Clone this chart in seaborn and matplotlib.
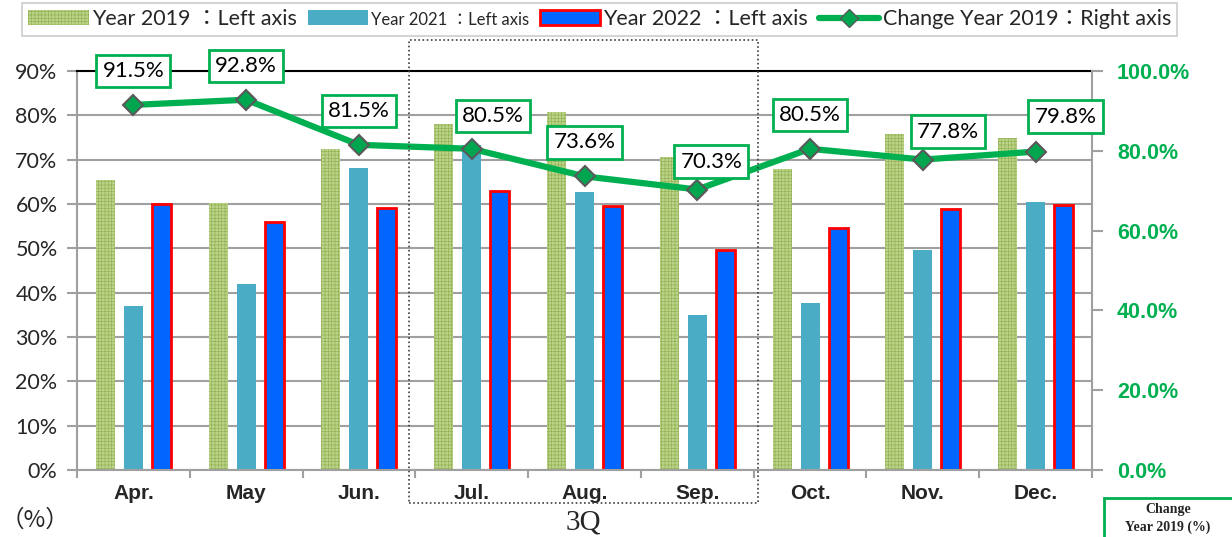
import numpy as np
import pandas as pd
import matplotlib
matplotlib.use("Agg")
import matplotlib.pyplot as plt
from matplotlib.patches import Patch, Rectangle
from matplotlib.lines import Line2D
import seaborn as sns

# ---- data ----
months = ["Apr.", "May", "Jun.", "Jul.", "Aug.", "Sep.", "Oct.", "Nov.", "Dec."]
y2019 = [65.4, 60.2, 72.4, 78.0, 80.8, 70.6, 67.9, 75.8, 74.9]
y2021 = [37.0, 42.0, 68.1, 73.3, 62.7, 35.0, 37.7, 49.6, 60.5]
y2022 = [60.0, 56.0, 59.1, 62.9, 59.6, 49.6, 54.6, 58.9, 59.8]
change = [91.5, 92.8, 81.5, 80.5, 73.6, 70.3, 80.5, 77.8, 79.8]
series_names = ["Year 2019 ：Left axis", "Year 2021 ：Left axis",
                "Year 2022 ：Left axis"]
line_name = "Change Year 2019：Right axis"
left_ticks = list(range(0, 91, 10))
right_ticks = list(range(0, 101, 20))

# label offsets (pixels) – styling only
lab_dx = [0, 0, 0, 21, 0, 14, 0, 25, 30]
lab_dy = [34, 34, 34, 33, 34, 28, 34, 28, 35]

sns.set_style("white")
plt.rcParams["font.family"] = ["Lato", "Noto Sans CJK JP", "DejaVu Sans"]
plt.rcParams["hatch.linewidth"] = 0.5

GREEN_F = "#bcd38a"
GREEN_H = "#94b356"
TEAL = "#4bacc6"
BLUE = "#0066ff"
RED = "#ff0000"
LINEG = "#00b050"
GRID = "#a0a0a0"

df = pd.DataFrame({
    "month": months * 3,
    "series": [series_names[0]] * 9 + [series_names[1]] * 9 + [series_names[2]] * 9,
    "value": y2019 + y2021 + y2022,
})

fig = plt.figure(figsize=(12.32, 5.37), dpi=100)
ax = fig.add_axes([77 / 1232, 1 - 470 / 537, (1092 - 77) / 1232, (470 - 71) / 537])

sns.barplot(data=df, x="month", y="value", hue="series", order=months,
            hue_order=series_names, palette=[GREEN_F, TEAL, BLUE],
            width=0.744, gap=0.32, ax=ax, legend=False, saturation=1)

for p in ax.containers[0]:
    p.set_facecolor(GREEN_F)
    p.set_edgecolor(GREEN_H)
    p.set_hatch("+++++")
    p.set_linewidth(0)
for p in ax.containers[1]:
    p.set_facecolor(TEAL)
    p.set_linewidth(0)
for p in ax.containers[2]:
    p.set_facecolor(BLUE)
    p.set_edgecolor(RED)
    p.set_linewidth(2)

ax.set_xlim(-0.5, 8.5)
ax.set_ylim(0, 90)
ax.set_yticks(left_ticks)
ax.set_yticklabels([f"{t}%" for t in left_ticks], fontsize=15.5)
ax.set_axisbelow(True)
ax.yaxis.grid(True, color=GRID, lw=1.5)
ax.xaxis.grid(False)
ax.set_xlabel("")
ax.set_ylabel("")
ax.tick_params(axis="y", length=7, color=GRID, width=1.5, pad=7, left=True)
ax.set_xticks(range(9))
ax.set_xticklabels(months, fontsize=15, fontweight="bold", family="Liberation Sans")
ax.tick_params(axis="x", which="major", length=0, pad=10)
ax.set_xticks(np.arange(-0.5, 9, 1), minor=True)
ax.tick_params(axis="x", which="minor", length=6, color=GRID, width=1.5, bottom=True)
for s in ["left", "bottom"]:
    ax.spines[s].set_color(GRID)
    ax.spines[s].set_linewidth(1.5)
ax.spines["top"].set_color("black")
ax.spines["top"].set_linewidth(1.5)
ax.spines["right"].set_visible(False)

ax2 = ax.twinx()
sns.lineplot(x=np.arange(9), y=change, ax=ax2, color=LINEG, lw=4.5,
             marker="D", markersize=10, markerfacecolor="#00a550",
             markeredgecolor="#595959", markeredgewidth=1.5)
ax2.set_xlim(-0.5, 8.5)
ax2.set_ylim(0, 100)
ax2.set_yticks(right_ticks)
ax2.set_yticklabels([f"{t:.1f}%" for t in right_ticks], fontsize=15.5,
                    fontweight="bold", color=LINEG, family="Liberation Sans")
ax2.tick_params(axis="y", length=8, color=GRID, width=1.5, pad=10, right=True)
ax2.set_ylabel("")
for s in ["left", "bottom", "top"]:
    ax2.spines[s].set_visible(False)
ax2.spines["right"].set_color(GRID)
ax2.spines["right"].set_linewidth(1.5)
ax2.grid(False)

for i, v in enumerate(change):
    ax2.annotate(f"{v}%", xy=(i, v), xytext=(lab_dx[i], lab_dy[i]),
                 textcoords="offset pixels", ha="center", va="center",
                 fontsize=16, color="black",
                 bbox=dict(boxstyle="square,pad=0.28", fc="white",
                           ec=LINEG, lw=2), zorder=10)

# legend
handles = [
    Patch(facecolor=GREEN_F, edgecolor=GREEN_H, hatch="+++++", lw=0),
    Patch(facecolor=TEAL, lw=0),
    Patch(facecolor=BLUE, edgecolor=RED, lw=2),
    Line2D([], [], color=LINEG, lw=4.5, marker="D", markersize=9,
           markerfacecolor="#00a550", markeredgecolor="#595959"),
]
leg = fig.legend(handles, series_names + [line_name], loc="upper left",
                 bbox_to_anchor=(22 / 1232, 1 - 3 / 537), ncol=4,
                 fontsize=15.5, frameon=True, fancybox=False, edgecolor="#bfbfbf",
                 handlelength=2.8, handleheight=0.7, handletextpad=0.15,
                 columnspacing=0.5, borderpad=0.3, borderaxespad=0)
leg.get_frame().set_linewidth(1.2)
leg.get_texts()[1].set_fontsize(12)

# 3Q dotted box
fig.patches.append(Rectangle((409 / 1232, 1 - 503 / 537), (758 - 409) / 1232,
                             (503 - 40) / 537, transform=fig.transFigure,
                             fill=False, ec="#404040", lw=1.2, ls=(0, (1, 1.5)),
                             zorder=20))
fig.text(583 / 1232, 1 - 522 / 537, "3Q", ha="center", va="center",
         fontsize=21, family="Liberation Serif")
fig.text(35 / 1232, 1 - 520 / 537, "（%）", ha="center", va="center",
         fontsize=17, family=["Noto Sans CJK JP", "DejaVu Sans"])

# bottom-right box
fig.patches.append(Rectangle((1104 / 1232, -0.05), 0.2, (0.05 + 1 - 498 / 537),
                             transform=fig.transFigure, fill=True, fc="white",
                             ec=LINEG, lw=2))
fig.text(1168 / 1232, 1 - 510 / 537, "Change", ha="center", va="center",
         fontsize=10, fontweight="bold", family="Liberation Serif")
fig.text(1168 / 1232, 1 - 527 / 537, "Year 2019 (%)", ha="center", va="center",
         fontsize=10, fontweight="bold", family="Liberation Serif")

fig.savefig("out.png", dpi=100)
